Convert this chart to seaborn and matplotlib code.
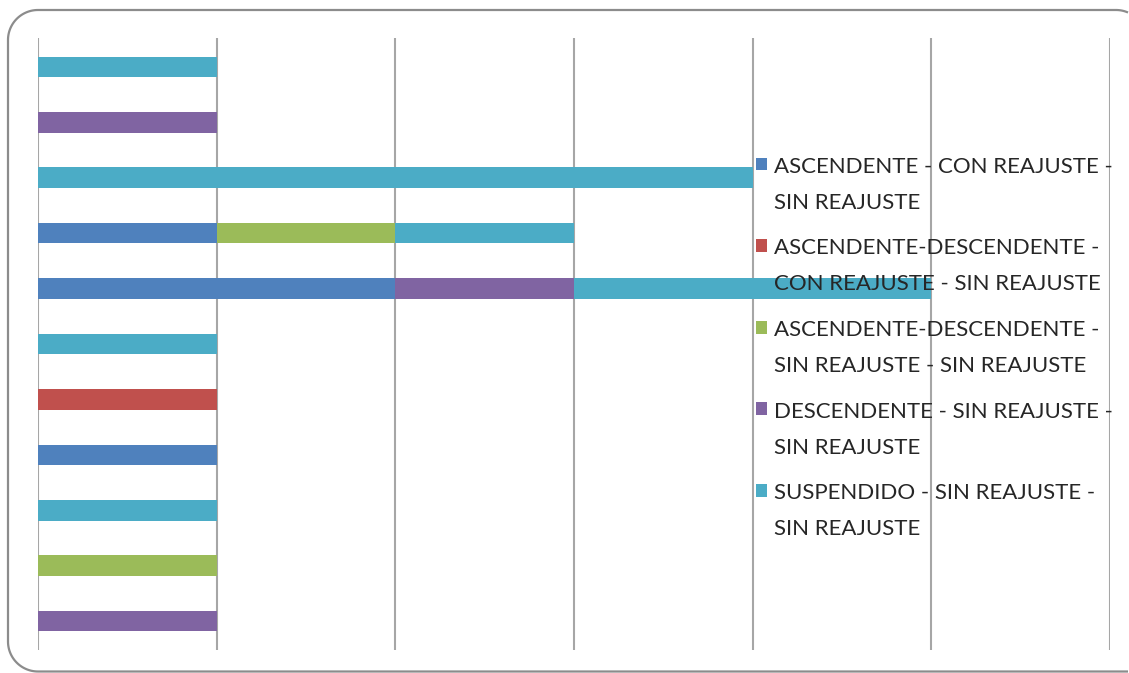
"""Stacked horizontal bars of trend categories per item, Excel-style look."""

import matplotlib.pyplot as plt
import numpy as np
import pandas as pd
import seaborn as sns
from matplotlib.lines import Line2D
from matplotlib.patches import Patch

# rows top to bottom
categories = ["A1", "A2", "A3", "A4", "A5", "A6", "A7", "A8", "A9", "A10", "A11"]

series_names = [
    "ASCENDENTE - CON REAJUSTE -\nSIN REAJUSTE",
    "ASCENDENTE-DESCENDENTE -\nCON REAJUSTE - SIN REAJUSTE",
    "ASCENDENTE-DESCENDENTE -\nSIN REAJUSTE - SIN REAJUSTE",
    "DESCENDENTE - SIN REAJUSTE -\nSIN REAJUSTE",
    "SUSPENDIDO - SIN REAJUSTE -\nSIN REAJUSTE",
]
ascendente_con = [0, 0, 0, 1, 2, 0, 0, 1, 0, 0, 0]
asc_desc_con = [0, 0, 0, 0, 0, 0, 1, 0, 0, 0, 0]
asc_desc_sin = [0, 0, 0, 1, 0, 0, 0, 0, 0, 1, 0]
descendente = [0, 1, 0, 0, 1, 0, 0, 0, 0, 0, 1]
suspendido = [1, 0, 4, 1, 2, 1, 0, 0, 1, 0, 0]

colors = ["#4F81BD", "#C0504D", "#9BBB59", "#8064A2", "#4BACC6"]

W, H = 1129, 673


def frame_outline(left=8, top=10, bottom=671.5, right=1146, r=30):
    """Rounded frame whose right side runs off the canvas (pixel coords, y down).

    The path stops just inside the canvas so Agg never has to clip it.
    """
    def arc(cx, cy, a0, a1):
        t = np.radians(np.linspace(a0, a1, 30))
        return cx + r * np.cos(t), cy - r * np.sin(t)

    edge = W - 1.0
    start = np.degrees(np.arccos((edge - (right - r)) / r))
    pieces = [
        arc(right - r, top + r, start, 90),
        arc(left + r, top + r, 90, 180),
        arc(left + r, bottom - r, 180, 270),
        (np.array([edge]), np.array([bottom])),
    ]
    xs = np.concatenate([p[0] for p in pieces])
    ys = np.concatenate([p[1] for p in pieces])
    return xs / W, 1 - ys / H


def main() -> None:
    sns.set_theme(style="white")
    plt.rcParams["font.family"] = ["Lato", "DejaVu Sans"]

    values = np.array([ascendente_con, asc_desc_con, asc_desc_sin, descendente, suspendido])
    cum = values.cumsum(axis=0)

    fig = plt.figure(figsize=(W / 100, H / 100), dpi=100)
    ax = fig.add_axes([38 / W, 1 - 650 / H, (1110 - 38) / W, (650 - 38) / H])
    ax.set_axisbelow(True)

    # draw cumulative totals from the outermost segment inward so stacks look right
    for i in range(len(series_names) - 1, -1, -1):
        df = pd.DataFrame({"cat": categories, "val": cum[i]})
        sns.barplot(data=df, x="val", y="cat", orient="h", color=colors[i],
                    saturation=1, width=0.37, linewidth=0, edgecolor="none", ax=ax)

    ax.set_xlim(0, 6)
    ax.set_ylim(10.52, -0.52)
    ax.set_xticks(range(7))
    ax.xaxis.grid(True, color="#A6A6A6", linewidth=1.5)
    ax.set_xticklabels([])
    ax.set_yticks([])
    ax.set_xlabel("")
    ax.set_ylabel("")
    ax.tick_params(length=0)
    for s in ax.spines.values():
        s.set_visible(False)

    handles = [Patch(facecolor=c, edgecolor="none") for c in colors]
    leg = fig.legend(handles, series_names, loc="upper left",
                     bbox_to_anchor=(747 / W, 1 - 148 / H), frameon=False,
                     fontsize=16, handlelength=0.5, handleheight=0.5,
                     handletextpad=0.3, labelspacing=1.15, borderaxespad=0)
    leg.set_zorder(5)
    for t in leg.get_texts():
        t.set_color("#262626")
        t.set_linespacing(2.0)
    for h in leg.legend_handles:
        h.set_y(h.get_y() + 15)

    fx, fy = frame_outline()
    fig.add_artist(Line2D(fx, fy, transform=fig.transFigure, color="#8C8C8C",
                          linewidth=1.6, solid_capstyle="butt"))

    fig.savefig("out.png", dpi=100)


if __name__ == "__main__":
    main()
